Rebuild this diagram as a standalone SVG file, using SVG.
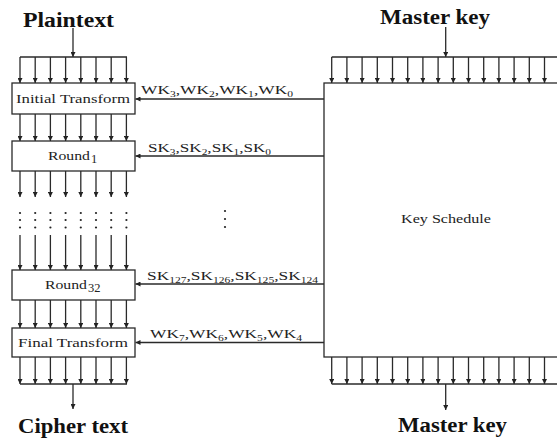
<svg xmlns="http://www.w3.org/2000/svg" width="557" height="439" viewBox="0 0 557 439">
<defs>
<marker id="ah" viewBox="0 0 6 6" refX="6" refY="3" markerWidth="5" markerHeight="5" markerUnits="userSpaceOnUse" orient="auto">
<path d="M0,0 L6,3 L0,6 z" fill="#222"/>
</marker>
<style>
.ln{stroke:#2a2a2a;stroke-width:1.3;fill:none}
.ar{stroke:#2a2a2a;stroke-width:1.3;fill:none;marker-end:url(#ah)}
.box{stroke:#2a2a2a;stroke-width:1.3;fill:#fff}
.t{font-family:"Liberation Serif","DejaVu Serif",serif;font-size:12.5px;fill:#222}
.lb{font-family:"Liberation Serif","DejaVu Serif",serif;font-size:13.5px;fill:#222}
.sub{font-size:9px}
.h{font-family:"Liberation Serif","DejaVu Serif",serif;font-size:20px;font-weight:bold;fill:#111}
.dot{fill:#222}
</style>
</defs>
<rect width="557" height="439" fill="#fff"/>

<g id="plaintext">
<text class="h" x="23" y="27" textLength="91" lengthAdjust="spacingAndGlyphs">Plaintext</text>
</g>
<g id="cipher-text">
<text class="h" x="18" y="433" textLength="110" lengthAdjust="spacingAndGlyphs">Cipher text</text>
</g>
<g id="master-key-top">
<text class="h" x="380" y="24" textLength="110" lengthAdjust="spacingAndGlyphs">Master key</text>
</g>
<g id="master-key-bottom">
<text class="h" x="398" y="432" textLength="109" lengthAdjust="spacingAndGlyphs">Master key</text>
</g>

<g id="initial-transform">
<rect class="box" x="12" y="83" width="123" height="31"/>
<text class="t" x="16" y="103" textLength="114" lengthAdjust="spacingAndGlyphs">Initial Transform</text>
</g>
<g id="round1">
<rect class="box" x="12" y="141" width="123" height="30"/>
<text class="t" x="48" y="160" textLength="42" lengthAdjust="spacingAndGlyphs">Round</text><text class="t" x="91" y="163" font-size="8.5">1</text>
</g>
<g id="round32">
<rect class="box" x="12" y="270" width="123" height="30"/>
<text class="t" x="45" y="289" textLength="42" lengthAdjust="spacingAndGlyphs">Round</text><text class="t" x="88" y="292" font-size="8.5">32</text>
</g>
<g id="final-transform">
<rect class="box" x="12" y="328" width="123" height="29"/>
<text class="t" x="18" y="347" textLength="110" lengthAdjust="spacingAndGlyphs">Final Transform</text>
</g>
<g id="key-schedule">
<rect class="box" x="324" y="83" width="240" height="274"/>
<text class="t" x="401" y="223" font-size="11.5" textLength="90" lengthAdjust="spacingAndGlyphs">Key Schedule</text>
</g>

<g id="connectors">
<line class="ar" x1="73" y1="28" x2="73" y2="57"/>
<line class="ln" x1="20" y1="57" x2="127" y2="57"/>
<g id="cols-a">
<line class="ar" x1="20" y1="57" x2="20" y2="83"/>
<line class="ar" x1="35.2" y1="57" x2="35.2" y2="83"/>
<line class="ar" x1="50.4" y1="57" x2="50.4" y2="83"/>
<line class="ar" x1="65.6" y1="57" x2="65.6" y2="83"/>
<line class="ar" x1="80.8" y1="57" x2="80.8" y2="83"/>
<line class="ar" x1="96" y1="57" x2="96" y2="83"/>
<line class="ar" x1="111.2" y1="57" x2="111.2" y2="83"/>
<line class="ar" x1="126.4" y1="57" x2="126.4" y2="83"/>
</g>
<g id="cols-b">
<line class="ar" x1="20" y1="114" x2="20" y2="141"/>
<line class="ar" x1="35.2" y1="114" x2="35.2" y2="141"/>
<line class="ar" x1="50.4" y1="114" x2="50.4" y2="141"/>
<line class="ar" x1="65.6" y1="114" x2="65.6" y2="141"/>
<line class="ar" x1="80.8" y1="114" x2="80.8" y2="141"/>
<line class="ar" x1="96" y1="114" x2="96" y2="141"/>
<line class="ar" x1="111.2" y1="114" x2="111.2" y2="141"/>
<line class="ar" x1="126.4" y1="114" x2="126.4" y2="141"/>
</g>
<g id="cols-c">
<line class="ar" x1="20" y1="171" x2="20" y2="197"/>
<line class="ar" x1="35.2" y1="171" x2="35.2" y2="197"/>
<line class="ar" x1="50.4" y1="171" x2="50.4" y2="197"/>
<line class="ar" x1="65.6" y1="171" x2="65.6" y2="197"/>
<line class="ar" x1="80.8" y1="171" x2="80.8" y2="197"/>
<line class="ar" x1="96" y1="171" x2="96" y2="197"/>
<line class="ar" x1="111.2" y1="171" x2="111.2" y2="197"/>
<line class="ar" x1="126.4" y1="171" x2="126.4" y2="197"/>
</g>
<g id="dots">
<circle class="dot" cx="20" cy="213" r="1.1"/><circle class="dot" cx="20" cy="220" r="1.1"/><circle class="dot" cx="20" cy="227.5" r="1.1"/>
<circle class="dot" cx="35.2" cy="213" r="1.1"/><circle class="dot" cx="35.2" cy="220" r="1.1"/><circle class="dot" cx="35.2" cy="227.5" r="1.1"/>
<circle class="dot" cx="50.4" cy="213" r="1.1"/><circle class="dot" cx="50.4" cy="220" r="1.1"/><circle class="dot" cx="50.4" cy="227.5" r="1.1"/>
<circle class="dot" cx="65.6" cy="213" r="1.1"/><circle class="dot" cx="65.6" cy="220" r="1.1"/><circle class="dot" cx="65.6" cy="227.5" r="1.1"/>
<circle class="dot" cx="80.8" cy="213" r="1.1"/><circle class="dot" cx="80.8" cy="220" r="1.1"/><circle class="dot" cx="80.8" cy="227.5" r="1.1"/>
<circle class="dot" cx="96" cy="213" r="1.1"/><circle class="dot" cx="96" cy="220" r="1.1"/><circle class="dot" cx="96" cy="227.5" r="1.1"/>
<circle class="dot" cx="111.2" cy="213" r="1.1"/><circle class="dot" cx="111.2" cy="220" r="1.1"/><circle class="dot" cx="111.2" cy="227.5" r="1.1"/>
<circle class="dot" cx="126.4" cy="213" r="1.1"/><circle class="dot" cx="126.4" cy="220" r="1.1"/><circle class="dot" cx="126.4" cy="227.5" r="1.1"/>
<circle class="dot" cx="225" cy="211" r="1.1"/><circle class="dot" cx="225" cy="219" r="1.1"/><circle class="dot" cx="225" cy="227" r="1.1"/>
</g>
<g id="cols-d">
<line class="ar" x1="20" y1="235" x2="20" y2="270"/>
<line class="ar" x1="35.2" y1="235" x2="35.2" y2="270"/>
<line class="ar" x1="50.4" y1="235" x2="50.4" y2="270"/>
<line class="ar" x1="65.6" y1="235" x2="65.6" y2="270"/>
<line class="ar" x1="80.8" y1="235" x2="80.8" y2="270"/>
<line class="ar" x1="96" y1="235" x2="96" y2="270"/>
<line class="ar" x1="111.2" y1="235" x2="111.2" y2="270"/>
<line class="ar" x1="126.4" y1="235" x2="126.4" y2="270"/>
</g>
<g id="cols-e">
<line class="ar" x1="20" y1="300" x2="20" y2="328"/>
<line class="ar" x1="35.2" y1="300" x2="35.2" y2="328"/>
<line class="ar" x1="50.4" y1="300" x2="50.4" y2="328"/>
<line class="ar" x1="65.6" y1="300" x2="65.6" y2="328"/>
<line class="ar" x1="80.8" y1="300" x2="80.8" y2="328"/>
<line class="ar" x1="96" y1="300" x2="96" y2="328"/>
<line class="ar" x1="111.2" y1="300" x2="111.2" y2="328"/>
<line class="ar" x1="126.4" y1="300" x2="126.4" y2="328"/>
</g>
<g id="cols-f">
<line class="ar" x1="20" y1="357" x2="20" y2="384"/>
<line class="ar" x1="35.2" y1="357" x2="35.2" y2="384"/>
<line class="ar" x1="50.4" y1="357" x2="50.4" y2="384"/>
<line class="ar" x1="65.6" y1="357" x2="65.6" y2="384"/>
<line class="ar" x1="80.8" y1="357" x2="80.8" y2="384"/>
<line class="ar" x1="96" y1="357" x2="96" y2="384"/>
<line class="ar" x1="111.2" y1="357" x2="111.2" y2="384"/>
<line class="ar" x1="126.4" y1="357" x2="126.4" y2="384"/>
</g>
<line class="ln" x1="20" y1="384" x2="127" y2="384"/>
<line class="ar" x1="73" y1="384" x2="73" y2="409"/>

<line class="ar" x1="445.7" y1="27" x2="445.7" y2="57"/>
<line class="ln" x1="331.7" y1="57" x2="560" y2="57"/>
<g id="key-cols-top">
<line class="ar" x1="331.7" y1="57" x2="331.7" y2="83"/>
<line class="ar" x1="346.9" y1="57" x2="346.9" y2="83"/>
<line class="ar" x1="362.1" y1="57" x2="362.1" y2="83"/>
<line class="ar" x1="377.3" y1="57" x2="377.3" y2="83"/>
<line class="ar" x1="392.5" y1="57" x2="392.5" y2="83"/>
<line class="ar" x1="407.7" y1="57" x2="407.7" y2="83"/>
<line class="ar" x1="422.9" y1="57" x2="422.9" y2="83"/>
<line class="ar" x1="438.1" y1="57" x2="438.1" y2="83"/>
<line class="ar" x1="453.3" y1="57" x2="453.3" y2="83"/>
<line class="ar" x1="468.5" y1="57" x2="468.5" y2="83"/>
<line class="ar" x1="483.7" y1="57" x2="483.7" y2="83"/>
<line class="ar" x1="498.9" y1="57" x2="498.9" y2="83"/>
<line class="ar" x1="514.1" y1="57" x2="514.1" y2="83"/>
<line class="ar" x1="529.3" y1="57" x2="529.3" y2="83"/>
<line class="ar" x1="544.5" y1="57" x2="544.5" y2="83"/>
</g>
<g id="key-cols-bottom">
<line class="ar" x1="331.7" y1="357" x2="331.7" y2="384"/>
<line class="ar" x1="346.9" y1="357" x2="346.9" y2="384"/>
<line class="ar" x1="362.1" y1="357" x2="362.1" y2="384"/>
<line class="ar" x1="377.3" y1="357" x2="377.3" y2="384"/>
<line class="ar" x1="392.5" y1="357" x2="392.5" y2="384"/>
<line class="ar" x1="407.7" y1="357" x2="407.7" y2="384"/>
<line class="ar" x1="422.9" y1="357" x2="422.9" y2="384"/>
<line class="ar" x1="438.1" y1="357" x2="438.1" y2="384"/>
<line class="ar" x1="453.3" y1="357" x2="453.3" y2="384"/>
<line class="ar" x1="468.5" y1="357" x2="468.5" y2="384"/>
<line class="ar" x1="483.7" y1="357" x2="483.7" y2="384"/>
<line class="ar" x1="498.9" y1="357" x2="498.9" y2="384"/>
<line class="ar" x1="514.1" y1="357" x2="514.1" y2="384"/>
<line class="ar" x1="529.3" y1="357" x2="529.3" y2="384"/>
<line class="ar" x1="544.5" y1="357" x2="544.5" y2="384"/>
</g>
<line class="ln" x1="331.7" y1="384" x2="560" y2="384"/>
<line class="ar" x1="445.7" y1="384" x2="445.7" y2="410"/>

<line class="ar" x1="324" y1="99" x2="135.5" y2="99"/>
<line class="ar" x1="324" y1="156" x2="135.5" y2="156"/>
<line class="ar" x1="324" y1="284" x2="135.5" y2="284"/>
<line class="ar" x1="324" y1="342.5" x2="135.5" y2="342.5"/>
</g>

<g id="labels">
<text class="lb" x="141" y="94" textLength="152" lengthAdjust="spacingAndGlyphs">WK<tspan class="sub" dy="2.5">3</tspan><tspan dy="-2.5">,WK</tspan><tspan class="sub" dy="2.5">2</tspan><tspan dy="-2.5">,WK</tspan><tspan class="sub" dy="2.5">1</tspan><tspan dy="-2.5">,WK</tspan><tspan class="sub" dy="2.5">0</tspan></text>
<text class="lb" x="148" y="152" textLength="123" lengthAdjust="spacingAndGlyphs">SK<tspan class="sub" dy="2.5">3</tspan><tspan dy="-2.5">,SK</tspan><tspan class="sub" dy="2.5">2</tspan><tspan dy="-2.5">,SK</tspan><tspan class="sub" dy="2.5">1</tspan><tspan dy="-2.5">,SK</tspan><tspan class="sub" dy="2.5">0</tspan></text>
<text class="lb" x="147" y="280" textLength="171" lengthAdjust="spacingAndGlyphs">SK<tspan class="sub" dy="2.5">127</tspan><tspan dy="-2.5">,SK</tspan><tspan class="sub" dy="2.5">126</tspan><tspan dy="-2.5">,SK</tspan><tspan class="sub" dy="2.5">125</tspan><tspan dy="-2.5">,SK</tspan><tspan class="sub" dy="2.5">124</tspan></text>
<text class="lb" x="150" y="338" textLength="152" lengthAdjust="spacingAndGlyphs">WK<tspan class="sub" dy="2.5">7</tspan><tspan dy="-2.5">,WK</tspan><tspan class="sub" dy="2.5">6</tspan><tspan dy="-2.5">,WK</tspan><tspan class="sub" dy="2.5">5</tspan><tspan dy="-2.5">,WK</tspan><tspan class="sub" dy="2.5">4</tspan></text>
</g>
</svg>
